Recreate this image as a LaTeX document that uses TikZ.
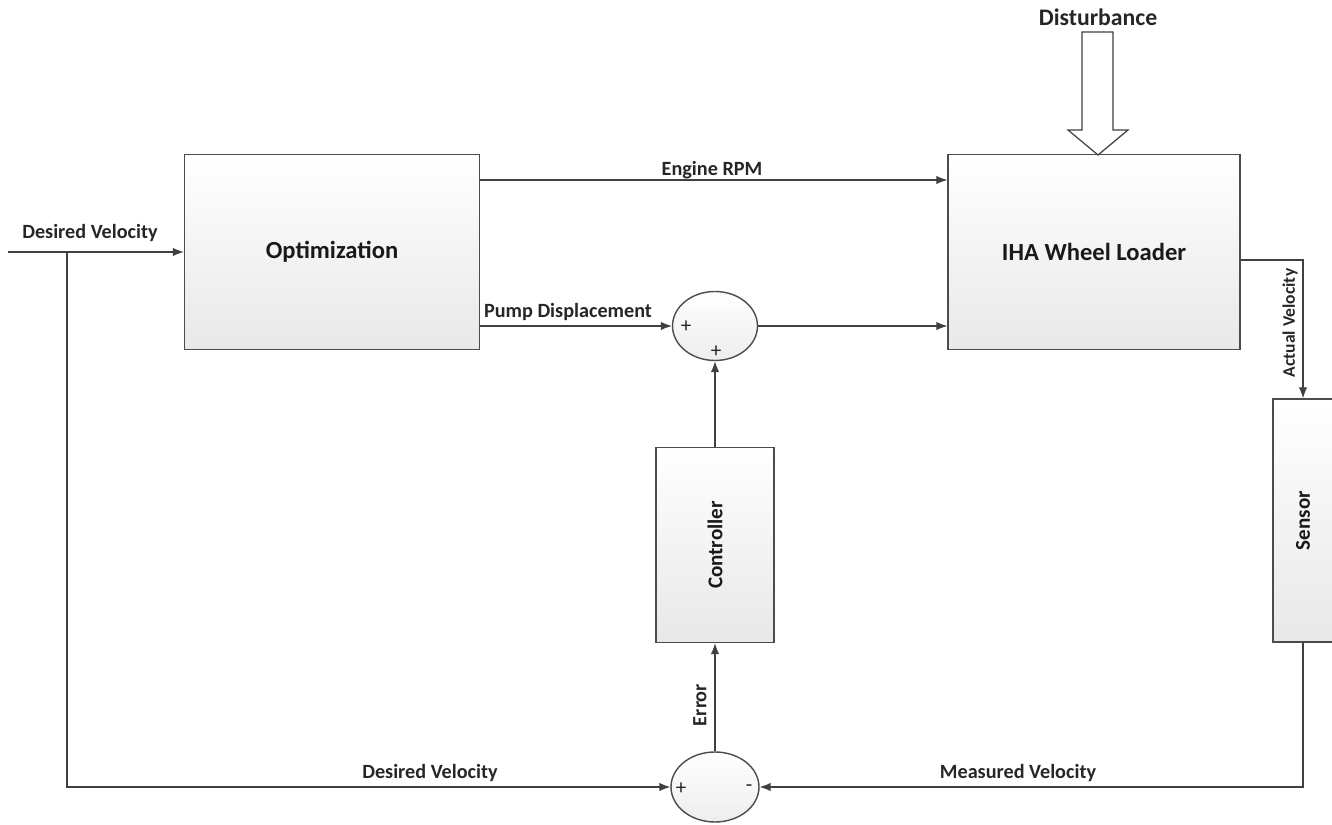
\documentclass[tikz,border=0pt]{standalone}
\usepackage{fontspec}
\setmainfont{Carlito}
\usepackage{tikz}
\usetikzlibrary{arrows, arrows.meta, positioning, shapes.geometric}

\tikzset{
  block/.style={draw=black!70, line width=0.8pt, top color=white, bottom color=black!9,
                minimum width=5.9cm, minimum height=3.9cm, text=black!90,
                font=\fontsize{14}{16}\selectfont\bfseries},
  vblock/.style={block, minimum width=2.36cm, minimum height=3.9cm,
                 font=\fontsize{12}{14}\selectfont\bfseries},
  sumnode/.style={ellipse, draw=black!70, line width=0.8pt, top color=white, bottom color=black!7,
                  minimum width=1.7cm, minimum height=1.38cm},
  lbl/.style={font=\fontsize{11.5}{13}\selectfont\bfseries, text=black!85},
  sgn/.style={font=\fontsize{12}{13}\selectfont, inner sep=0pt, text=black!85},
  link/.style={draw=black!75, line width=0.6pt, -{Latex[length=2.2mm, width=1.7mm]}}
}

\begin{document}
\begin{tikzpicture}
\useasboundingbox (0,0) rectangle (26.64,16.48);

\node [block] (opt) at (6.64,11.44) {Optimization};
\node [block, minimum width=5.84cm] (iha) at (21.88,11.44) {IHA Wheel Loader};

\node [sumnode] (sumA) at (14.30,9.96) {};
\node [vblock] (ctrl) at (14.30,5.58) {\rotatebox{90}{Controller}};
\node [sumnode, minimum width=1.76cm, minimum height=1.4cm] (sumB) at (14.30,0.74) {};

\node [vblock, minimum width=1.2cm, minimum height=4.86cm] (sens) at (26.06,6.07) {\rotatebox{90}{Sensor}};

\node [sgn] (pA1) at (13.72,9.94) {+};
\node [sgn] (pA2) at (14.32,9.44) {+};
\node [sgn] (pB1) at (13.62,0.70) {+};
\node [sgn] (pB2) at (14.98,0.72) {-};

\coordinate (in) at (0.16,11.44);
\coordinate (split) at (1.34,11.44);

% labels
\node [lbl] (l1) at (1.80,11.82) {Desired Velocity};
\node [lbl] (l2) at (14.24,13.08) {Engine RPM};
\node [lbl] (l3) at (11.36,10.24) {Pump Displacement};
\node [lbl] (l4) at (8.60,1.02) {Desired Velocity};
\node [lbl] (l5) at (20.36,1.02) {Measured Velocity};
\node [lbl, rotate=90] (l6) at (14.00,2.38) {Error};
\node [lbl, rotate=90, font=\fontsize{10}{12}\selectfont\bfseries] (l7) at (25.80,10.02) {Actual Velocity};
\node [lbl, font=\fontsize{13.5}{15}\selectfont\bfseries] (dist) at (21.96,16.14) {Disturbance};

\draw [link] (in) -- (opt.west);
\draw [link] (split) |- (sumB.west);
\draw [link] ([yshift=1.44cm]opt.east) -- ([yshift=1.44cm]iha.west);
\draw [link] (opt.east |- sumA) -- (sumA.west);
\draw [link] (sumA.east) -- (iha.west |- sumA);
\draw [link] (ctrl.north) -- (sumA.south);
\draw [link] (sumB.north) -- (ctrl.south);
\draw [link] ([yshift=-0.16cm]iha.east) -| (sens.north);
\draw [link] (sens.south) |- (sumB.east);

% disturbance arrow
\draw [draw=black!75, line width=0.7pt, fill=white]
  (21.64,15.84) -- (22.26,15.84) -- (22.26,13.88) -- (22.56,13.88)
  -- (21.96,13.38) -- (21.36,13.88) -- (21.64,13.88) -- cycle;

\end{tikzpicture}
\end{document}
